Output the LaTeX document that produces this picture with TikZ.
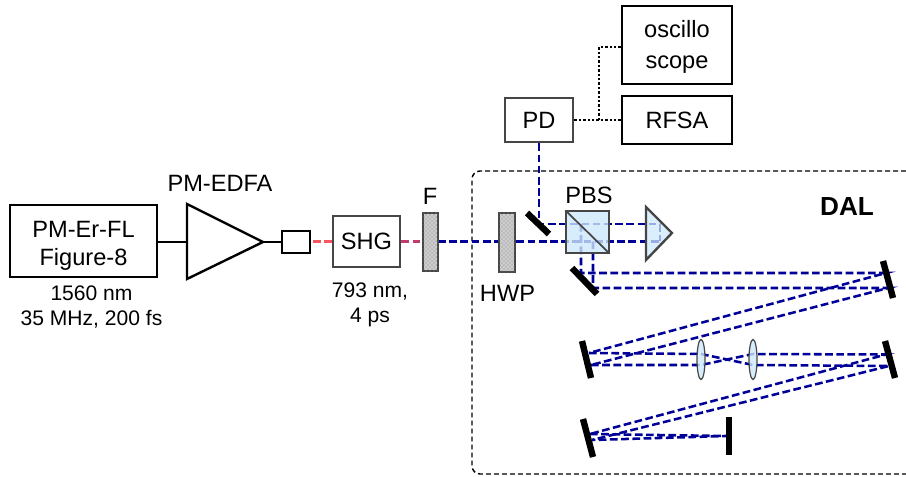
\documentclass[tikz,border=0pt]{standalone}
\usepackage{fontspec}
\setmainfont{Liberation Sans}
\usetikzlibrary{shapes.geometric,patterns}
\definecolor{beam}{RGB}{0,0,153}
\definecolor{redbeam}{RGB}{250,85,95}
\definecolor{magbeam}{RGB}{190,60,110}
\definecolor{frameg}{RGB}{70,70,70}
\definecolor{glass}{RGB}{205,232,250}
\definecolor{filt}{RGB}{205,205,205}
\newcommand{\lbl}{\fontsize{17.7pt}{20.5pt}\selectfont}
\newcommand{\sml}{\fontsize{15.8pt}{18.8pt}\selectfont}
\tikzset{
  x=0.75pt,y=-0.75pt,
  blackbox/.style={draw=black,line width=1.8pt,fill=white,inner sep=0pt,align=center,font=\lbl},
  greybox/.style={draw=frameg,line width=2pt,fill=white,inner sep=0pt,align=center,font=\lbl},
  filterbox/.style={draw=frameg,line width=2pt,fill=filt,inner sep=0pt,postaction={pattern=crosshatch dots,pattern color=gray}},
  txt/.style={inner sep=0pt,align=center,font=\lbl},
  smalltxt/.style={inner sep=0pt,align=center,font=\sml},
  ray/.style={draw=beam,line width=1.9pt,dash pattern=on 5.8pt off 2.6pt},
  mirror/.style={draw=black,line width=4.8pt},
  lensshape/.style={draw=frameg,line width=0.9pt,fill=glass,fill opacity=.8,ellipse,minimum width=8*0.75pt,minimum height=40*0.75pt,inner sep=0pt},
  wire/.style={draw=black,line width=1.8pt},
  dotwire/.style={draw=black,line width=1.8pt,dash pattern=on 1.8pt off 1.5pt},
}
\begin{document}
\begin{tikzpicture}
\useasboundingbox (0,0) rectangle (906,477);
% enclosure
\draw[line width=1.1pt,dash pattern=on 3.6pt off 2.4pt,rounded corners=6pt] (906,171) -- (472,171) -- (472,474) -- (906,474);
% ray coordinates
\coordinate (p1) at (539,224);
\coordinate (pr) at (660,224);
\coordinate (prb) at (660,241.5);
\coordinate (v1) at (581,224);
\coordinate (v2) at (593,241.5);
\coordinate (m1a) at (581,273);
\coordinate (m1b) at (593,288);
\coordinate (m2a) at (886,273);
\coordinate (m2b) at (888,288);
\coordinate (m3a) at (589,353);
\coordinate (m3b) at (591,365);
\coordinate (focus) at (727,359.5);
\coordinate (m4a) at (886,354.5);
\coordinate (m4b) at (889,366);
\coordinate (m5a) at (590,434);
\coordinate (m5b) at (592,440);
\coordinate (endm) at (727,436);
% boxes
\node[blackbox,minimum width=147*0.75pt,minimum height=72*0.75pt] (fl) at (83.5,241) {\rule{0pt}{19.5pt}PM-Er-FL\\[1pt]Figure-8};
\coordinate (ampL) at (187,242);
\coordinate (ampT) at (263,242);
\node[blackbox,minimum width=28*0.75pt,minimum height=22*0.75pt] (sq) at (296,242) {};
\node[greybox,minimum width=67*0.75pt,minimum height=51*0.75pt] (shg) at (366.5,241.5) {SHG};
\node[greybox,minimum width=68*0.75pt,minimum height=44*0.75pt] (pd) at (539,120) {PD};
\node[blackbox,minimum width=110*0.75pt,minimum height=78*0.75pt] (osc) at (677,45) {\rule{0pt}{16pt}oscillo\\[3pt]scope};
\node[blackbox,minimum width=110*0.75pt,minimum height=48*0.75pt] (rfsa) at (677,120) {RFSA};
% wires
\draw[wire] (fl.east |- ampL) -- (ampL);
\draw[wire] (ampT) -- (sq.west);
\draw[dotwire] (pd.east) -- (rfsa.west);
\coordinate (junc) at (599,120);
\draw[dotwire] (junc) -- (599,47) -- (osc.west |- 0,47);
% beams
\draw[draw=redbeam,line width=1.9pt,dash pattern=on 5.8pt off 2.6pt] (313,241.5) -- (shg.west);
\draw[draw=magbeam,line width=1.9pt,dash pattern=on 5.8pt off 2.6pt] (shg.east) -- (430,241.5);
\draw[ray] (438,241.5) -- (prb);
\draw[ray] (pd.south) -- (p1) -- (pr) -- (prb);
\draw[ray] (v1) -- (m1a) -- (m2a) -- (m3a);
\draw[ray] (v2) -- (m1b) -- (m2b) -- (m3b);
\draw[ray] (m3a) -- (701,354) -- (focus) -- (753,365) -- (m4b) -- (m5b);
\draw[ray] (m3b) -- (701,365) -- (focus) -- (753,354) -- (m4a) -- (m5a);
\draw[ray] (m5a) -- (endm) -- (m5b);
% filters above the beam
\node[filterbox,minimum width=16*0.75pt,minimum height=59*0.75pt] (hwp) at (507,242.5) {};
\node[filterbox,minimum width=15*0.75pt,minimum height=58*0.75pt] (f) at (430.5,242) {};
% amp triangle
\draw[line width=1.8pt,fill=white,line join=miter] (187,204) -- (263,242) -- (187,279) -- cycle;
% mirrors
\draw[mirror] (527,213) -- (549,234);
\draw[mirror] (572,268) -- (597,294);
\draw[mirror] (883,261) -- (893,298);
\draw[mirror] (582,341) -- (591,378);
\draw[mirror] (885,341) -- (895,378);
\draw[mirror] (583,419) -- (593,457);
\draw[mirror] (729,417) -- (729,455);
% PBS and prism
\fill[glass,opacity=.8] (566,211) rectangle (609,253);
\draw[frameg,line width=1.8pt] (566,211) rectangle (609,253);
\draw[frameg,line width=1.3pt] (566,211) -- (609,253);
\fill[glass,opacity=.75] (646,207) -- (672,233) -- (646,260) -- cycle;
\draw[frameg,line width=1.8pt,line join=miter] (646,207) -- (672,233) -- (646,260) -- cycle;
% lenses
\node[lensshape] (l1) at (701,359.5) {};
\node[lensshape] (l2) at (753,359.5) {};
% labels
\node[txt] (t1) at (220,183) {PM-EDFA};
\node[smalltxt] (t2) at (91.5,307) {1560 nm\\35 MHz, 200 fs};
\node[smalltxt] (t3) at (370,304.5) {793 nm,\\4 ps};
\node[txt] (t4) at (430,196) {F};
\node[txt] (t5) at (507.5,293) {HWP};
\node[txt] (t6) at (589,195) {PBS};
\node[txt,font=\fontsize{19.6pt}{22pt}\selectfont\bfseries] (t7) at (847,207) {DAL};
\end{tikzpicture}
\end{document}
